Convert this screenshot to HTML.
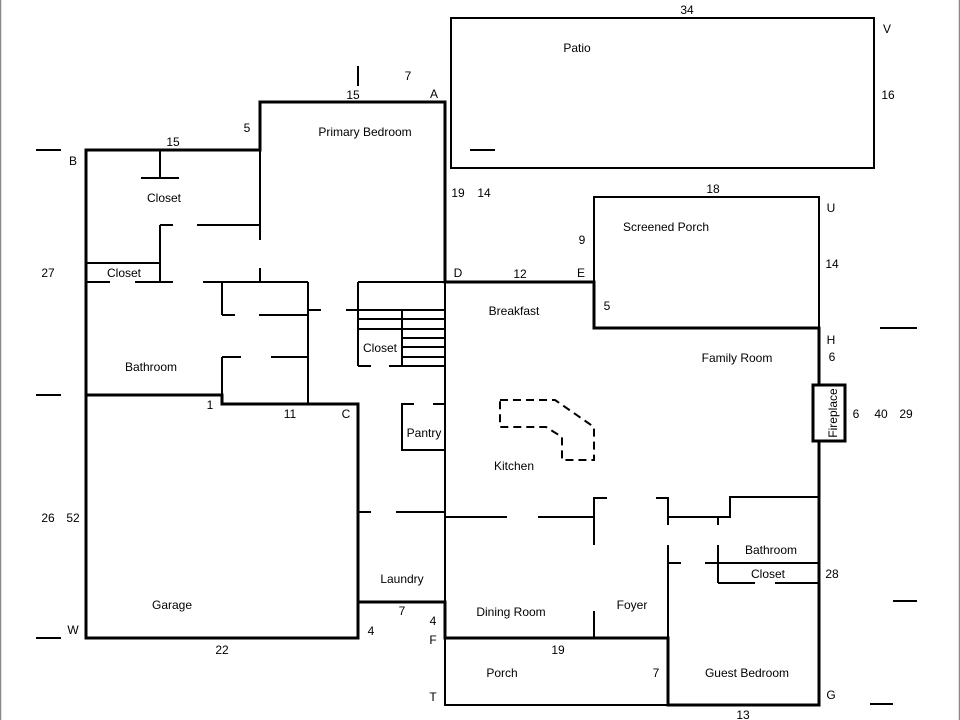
<!DOCTYPE html>
<html><head><meta charset="utf-8"><style>
html,body{margin:0;padding:0;background:#fff;}
svg{display:block;}
text{font-family:"Liberation Sans",Arial,sans-serif;font-size:12px;fill:#000;}
</style></head><body>
<svg width="960" height="720" viewBox="0 0 960 720" xmlns="http://www.w3.org/2000/svg">
<rect x="0" y="0" width="960" height="720" fill="#fff"/>
<line x1="0.5" y1="0" x2="0.5" y2="720" stroke="#888" stroke-width="1.5"/>
<line x1="959.5" y1="0" x2="959.5" y2="720" stroke="#888" stroke-width="1.5"/>
<g stroke="#000" stroke-width="3" fill="none" stroke-linecap="square">
<polyline points="86,395 86,150 260,150 260,102 445,102 445,282 594,282 594,328 819,328 819,705 668,705 668,638 445,638 445,602 358,602 358,404 222,404 222,395 86,395"/>
<polyline points="86,395 86,638 358,638 358,602"/>
<rect x="813" y="385" width="32" height="56" fill="#fff"/>
</g>
<g stroke="#000" stroke-width="2" fill="none">
<rect x="451" y="18" width="423" height="150"/>
<polyline points="594,282 594,197 819,197 819,328"/>
<polyline points="445,638 445,705 668,705"/>
</g>
<g stroke="#000" stroke-width="2" fill="none">
<!-- left wing -->
<line x1="160" y1="150" x2="160" y2="178"/>
<line x1="141" y1="178" x2="179" y2="178"/>
<line x1="260" y1="150" x2="260" y2="240"/>
<line x1="260" y1="268" x2="260" y2="282"/>
<line x1="160" y1="225" x2="173" y2="225"/>
<line x1="197" y1="225" x2="260" y2="225"/>
<line x1="160" y1="225" x2="160" y2="282"/>
<line x1="86" y1="263" x2="160" y2="263"/>
<line x1="86" y1="282" x2="110" y2="282"/>
<line x1="135" y1="282" x2="173" y2="282"/>
<line x1="203" y1="282" x2="308" y2="282"/>
<line x1="222" y1="282" x2="222" y2="315"/>
<line x1="222" y1="315" x2="235" y2="315"/>
<line x1="259" y1="315" x2="308" y2="315"/>
<line x1="308" y1="282" x2="308" y2="404"/>
<line x1="308" y1="310" x2="321" y2="310"/>
<line x1="346" y1="310" x2="445" y2="310"/>
<line x1="222" y1="357" x2="241" y2="357"/>
<line x1="271" y1="357" x2="308" y2="357"/>
<line x1="222" y1="357" x2="222" y2="404"/>
<!-- stair closet -->
<line x1="358" y1="282" x2="445" y2="282"/>
<line x1="358" y1="282" x2="358" y2="366"/>
<line x1="358" y1="366" x2="371" y2="366"/>
<line x1="389" y1="366" x2="445" y2="366"/>
<line x1="402" y1="310" x2="402" y2="366"/>
<line x1="358" y1="319" x2="445" y2="319"/>
<line x1="358" y1="329" x2="445" y2="329"/>
<line x1="402" y1="338" x2="445" y2="338"/>
<line x1="402" y1="347" x2="445" y2="347"/>
<line x1="402" y1="357" x2="445" y2="357"/>
<line x1="445" y1="282" x2="445" y2="602"/>
<!-- pantry -->
<polyline points="414,404 402,404 402,450 445,450"/>
<line x1="433" y1="404" x2="445" y2="404"/>
<!-- kitchen / laundry -->
<line x1="358" y1="512" x2="371" y2="512"/>
<line x1="396" y1="512" x2="445" y2="512"/>
<line x1="445" y1="517" x2="507" y2="517"/>
<line x1="538" y1="517" x2="594" y2="517"/>
<polyline points="607,498 594,498 594,545"/>
<line x1="594" y1="611" x2="594" y2="638"/>
<polyline points="656,498 668,498 668,525"/>
<line x1="668" y1="545" x2="668" y2="638"/>
<polyline points="668,517 730,517 730,497 819,497"/>
<line x1="718" y1="517" x2="718" y2="525"/>
<line x1="718" y1="545" x2="718" y2="583"/>
<line x1="668" y1="563" x2="681" y2="563"/>
<line x1="705" y1="563" x2="819" y2="563"/>
<line x1="718" y1="583" x2="755" y2="583"/>
<line x1="775" y1="583" x2="819" y2="583"/>
<!-- dimension ticks -->
<line x1="36" y1="150" x2="61" y2="150"/>
<line x1="36" y1="395" x2="61" y2="395"/>
<line x1="36" y1="638" x2="61" y2="638"/>
<line x1="358" y1="66" x2="358" y2="86"/>
<line x1="470" y1="150" x2="495" y2="150"/>
<line x1="880" y1="328" x2="917" y2="328"/>
<line x1="893" y1="601" x2="917" y2="601"/>
<line x1="870" y1="704" x2="893" y2="704"/>
</g>
<!-- island dashed -->
<g stroke="#000" stroke-width="2" fill="none" stroke-dasharray="8,5">
<polyline points="500,400 555,400 594,427 594,460 562,460 562,437 546,427 500,427 500,400"/>
</g>
<text x="834" y="413" transform="rotate(-90 834 413)" text-anchor="middle" dominant-baseline="middle">Fireplace</text>
<g text-anchor="middle">
<text x="687" y="14">34</text>
<text x="887" y="33">V</text>
<text x="888" y="99">16</text>
<text x="577" y="52">Patio</text>
<text x="408" y="80">7</text>
<text x="353" y="99">15</text>
<text x="434" y="98">A</text>
<text x="247" y="132">5</text>
<text x="365" y="136">Primary Bedroom</text>
<text x="173" y="146">15</text>
<text x="73" y="165">B</text>
<text x="164" y="202">Closet</text>
<text x="458" y="197">19</text>
<text x="484" y="197">14</text>
<text x="713" y="193">18</text>
<text x="831" y="212">U</text>
<text x="666" y="231">Screened Porch</text>
<text x="582" y="244">9</text>
<text x="832" y="268">14</text>
<text x="48" y="277">27</text>
<text x="124" y="277">Closet</text>
<text x="458" y="277">D</text>
<text x="520" y="278">12</text>
<text x="581" y="277">E</text>
<text x="607" y="310">5</text>
<text x="514" y="315">Breakfast</text>
<text x="831" y="344">H</text>
<text x="380" y="352">Closet</text>
<text x="737" y="362">Family Room</text>
<text x="832" y="361">6</text>
<text x="151" y="371">Bathroom</text>
<text x="210" y="409">1</text>
<text x="290" y="418">11</text>
<text x="346" y="418">C</text>
<text x="856" y="418">6</text>
<text x="881" y="418">40</text>
<text x="906" y="418">29</text>
<text x="424" y="437">Pantry</text>
<text x="514" y="470">Kitchen</text>
<text x="48" y="522">26</text>
<text x="73" y="522">52</text>
<text x="771" y="554">Bathroom</text>
<text x="768" y="578">Closet</text>
<text x="832" y="578">28</text>
<text x="402" y="583">Laundry</text>
<text x="632" y="609">Foyer</text>
<text x="172" y="609">Garage</text>
<text x="402" y="615">7</text>
<text x="511" y="616">Dining Room</text>
<text x="433" y="625">4</text>
<text x="73" y="634">W</text>
<text x="371" y="635">4</text>
<text x="433" y="644">F</text>
<text x="222" y="654">22</text>
<text x="558" y="654">19</text>
<text x="502" y="677">Porch</text>
<text x="656" y="677">7</text>
<text x="747" y="677">Guest Bedroom</text>
<text x="433" y="701">T</text>
<text x="831" y="699">G</text>
<text x="743" y="719">13</text>
</g>
</svg>
</body></html>
